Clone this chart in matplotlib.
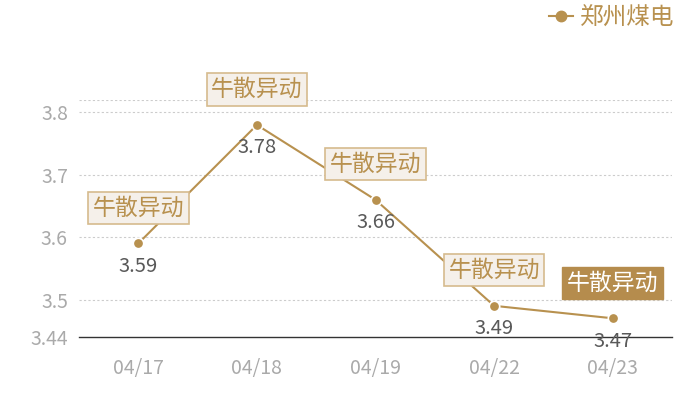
import matplotlib.pyplot as plt
from matplotlib.lines import Line2D

plt.rcParams['font.family'] = ['Noto Sans CJK SC', 'DejaVu Sans']

dates = ['04/17', '04/18', '04/19', '04/22', '04/23']
prices = [3.59, 3.78, 3.66, 3.49, 3.47]
tags = ['牛散异动', '牛散异动', '牛散异动', '牛散异动', '牛散异动']
highlight = [False, False, False, False, True]
series_name = '郑州煤电'

gold = '#b8914f'
fill_light = '#f5f0ea'
edge_light = '#d6bb8e'
fill_dark = '#b58c4d'

fig = plt.figure(figsize=(7, 4), dpi=100)
ax = fig.add_axes([79 / 700, 1 - 337 / 400, (672 - 79) / 700, (337 - 100) / 400])

x = list(range(len(dates)))
ax.plot(x, prices, color=gold, lw=1.5, marker='o', ms=7.5, mfc=gold,
        mec='white', mew=1.2, zorder=3)

for i, (v, t) in enumerate(zip(prices, tags)):
    ax.annotate(f'{v:.2f}', (i, v), xytext=(0, -16.5), textcoords='offset points',
                ha='center', va='center', fontsize=14.5, color='#595959', zorder=5)
    if highlight[i]:
        box = dict(boxstyle='square,pad=0.2', fc=fill_dark, ec=fill_dark, lw=1)
        tc = 'white'
    else:
        box = dict(boxstyle='square,pad=0.2', fc=fill_light, ec=edge_light, lw=1.2)
        tc = gold
    ax.annotate(t, (i, v), xytext=(0, 25.5), textcoords='offset points',
                ha='center', va='center', fontsize=16.5, color=tc, bbox=box, zorder=6)

ax.set_xlim(-0.5, len(dates) - 0.5)
ax.set_ylim(3.44, 3.82)
ax.set_xticks(x)
ax.set_xticklabels(dates)
yt = [3.44, 3.5, 3.6, 3.7, 3.8, 3.82]
ax.set_yticks(yt)
ax.set_yticklabels(['3.44', '3.5', '3.6', '3.7', '3.8', ''])
ax.tick_params(length=0, colors='#aaaaaa', labelsize=14)
ax.tick_params(axis='x', pad=15)
ax.tick_params(axis='y', pad=8)

for g in yt[1:]:
    ax.axhline(g, color='#cccccc', lw=0.8, ls=(0, (2, 2)), zorder=1)

for s in ['top', 'right', 'left']:
    ax.spines[s].set_visible(False)
ax.spines['bottom'].set_color('#333333')
ax.spines['bottom'].set_linewidth(1)

h = Line2D([], [], color=gold, lw=1.5, marker='o', ms=7.5, mfc=gold, mec=gold)
fig.legend([h], [series_name], loc='center right', bbox_to_anchor=(0.963, 1 - 18 / 400),
           frameon=False, fontsize=17, labelcolor=gold, handlelength=1.0,
           handletextpad=0.3, borderaxespad=0, borderpad=0)

fig.savefig('out.png', dpi=100)
